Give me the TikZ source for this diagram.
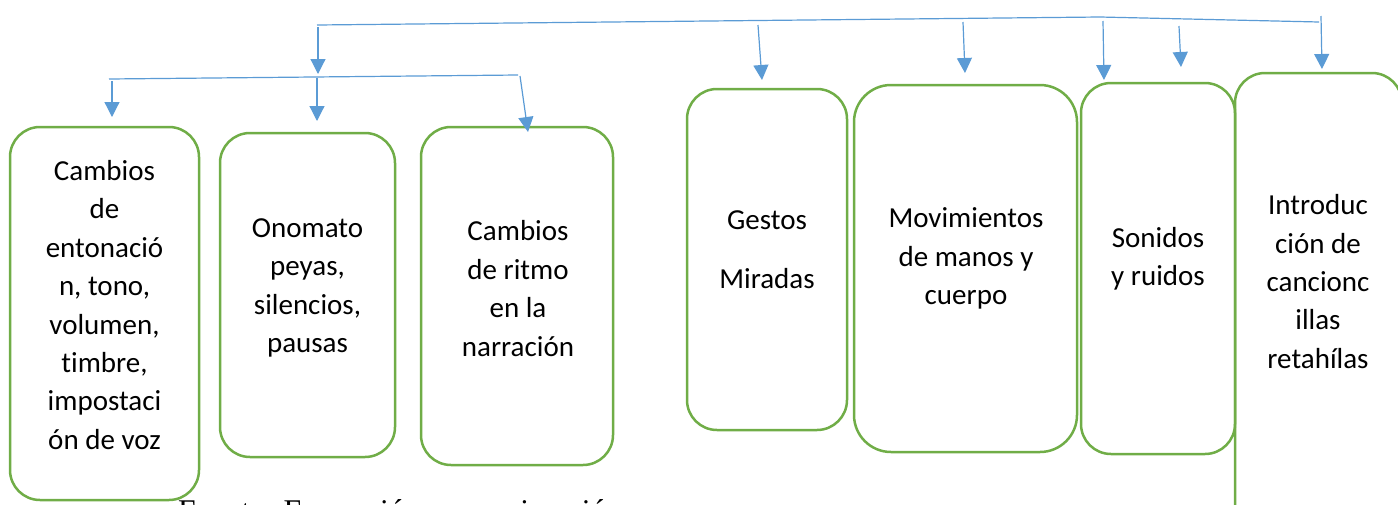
\documentclass[tikz,border=0pt]{standalone}
\usepackage{fontspec}
\setmainfont{Carlito}[Ligatures = NoCommon]
\newfontfamily\fuentefont{Liberation Serif}
\usepackage{xcolor}
\usetikzlibrary{arrows.meta, positioning}

\definecolor{verde}{HTML}{70AD47}
\definecolor{azul}{HTML}{5B9BD5}

\tikzset{
	caja/.style = {draw = verde, line width = 2.5pt, rounded corners = 30pt, inner sep = 0pt},
	texto/.style = {align = center, inner sep = 0pt, font = \fontsize{29pt}{38.4pt}\selectfont},
	flecha/.style = {draw = azul, line width = 1.2pt, -{Triangle[length = 15pt, width = 15pt]}},
	linea/.style = {draw = azul, line width = 1.2pt}
}

\begin{document}
\begin{tikzpicture}[x = 1pt, y = -1pt]
			\useasboundingbox (0,0) rectangle (1398,504);
			\clip (0,0) rectangle (1398,504);

			\begin{scope}
				\node [caja, minimum width = 189pt, minimum height = 373pt] (entonacion) at (104.5,313.5) {};
				\node [caja, minimum width = 175pt, minimum height = 324pt] (onomatopeyas) at (307.5,295) {};
				\node [caja, minimum width = 192pt, minimum height = 338pt] (ritmo) at (517,296) {};
				\node [caja, minimum width = 160pt, minimum height = 341pt] (gestos) at (767,259.5) {};
				\node [caja, minimum width = 223pt, minimum height = 367pt, rounded corners = 37pt] (movimientos) at (965.5,268.5) {};
				\node [caja, minimum width = 154pt, minimum height = 371pt] (sonidos) at (1158,268.5) {};
				\node [caja, minimum width = 167pt, minimum height = 467pt] (canciones) at (1318.5,306.5) {};
			\end{scope}

			\begin{scope}
				\node [texto] (t-entonacion) at (104.5,305) {Cambios\\de\\entonació\\n, tono,\\volumen,\\timbre,\\impostaci\\ón de voz};
				\node [texto] (t-onomatopeyas) at (307.5,288) {Onomato\\peyas,\\silencios,\\pausas};
				\node [texto] (t-ritmo) at (518,288.5) {Cambios\\de ritmo\\en la\\narración};
				\node [texto] (t-gestos) at (767,249.5) {Gestos\\[20.6pt]Miradas};
				\node [texto] (t-movimientos) at (966,258.5) {Movimientos\\de manos y\\cuerpo};
				\node [texto] (t-sonidos) at (1158,259) {Sonidos\\y ruidos};
				\node [texto] (t-canciones) at (1318,281.5) {Introduc\\ción de\\cancionc\\illas\\retahílas};
			\end{scope}

			\node [anchor = base west, inner sep = 0pt, font = \fuentefont\fontsize{31.6pt}{38pt}\selectfont] (fuente) at (178,521.6) {Fuente: Formación para animación};

			\coordinate (TopL) at (317,25);
			\coordinate (TopC) at (1100,17);
			\coordinate (TopR) at (1319,22);
			\coordinate (MidL) at (109,79);
			\coordinate (MidR) at (518,75);

			\begin{scope}
				\draw [linea] (TopL) to (TopC) to (TopR);
				\draw [linea] (MidL) to (MidR);
			\end{scope}

			\begin{scope}
				\draw [flecha] (318,27) to (318,74);
				\draw [flecha] (112,81) to (112,117);
				\draw [flecha] (317,78) to (317,121);
				\draw [flecha] (520,76) to (528,132);
				\draw [flecha] (758,25) to (762,80);
				\draw [flecha] (963,22) to (965,73);
				\draw [flecha] (1103,21) to (1104,80);
				\draw [flecha] (1179,26) to (1181,67);
				\draw [flecha] (1321,16) to (1322,69);
			\end{scope}
		\end{tikzpicture}
\end{document}
